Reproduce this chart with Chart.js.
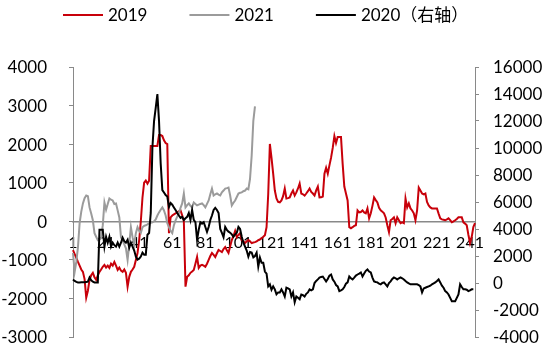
<!DOCTYPE html>
<html>
<head>
<meta charset="utf-8">
<script src="https://cdn.jsdelivr.net/npm/chart.js@4/dist/chart.umd.min.js"></script>
<style>
html,body{margin:0;padding:0;background:#fff;}
#wrap{width:550px;height:360px;position:relative;}
</style>
</head>
<body>
<div id="wrap"><canvas id="c" width="550" height="360"></canvas></div>
<script>
const categories = Array.from({length: 244}, (_, i) => String(i + 1));
const tickLabels = ['1','21','41','61','81','101','121','141','161','181','201','221','241'];
const seriesNames = ['2019', '2021', '2020（右轴）'];

const values2019 = [
-745,-850,-950,-1054,-1150,-1250,-1310,-1500,-1980,-1800,
-1516,-1400,-1336,-1450,-1516,-1400,-1310,-1250,-1180,-1130,
-1200,-1150,-1208,-1100,-1150,-1054,-1150,-1260,-1200,-1280,
-1310,-1250,-1336,-1696,-1440,-1310,-1250,-1180,-1002,-822,
-488,0,617,1000,1054,977,1054,1953,1953,1953,
1953,1953,2236,2236,2210,2100,2030,2000,-308,103,
150,180,206,230,260,283,154,0,-1696,-1440,
-1400,-1336,-1300,-1260,-1100,-925,-1208,-1150,-1130,-1150,
-1180,-1100,-1002,-900,-822,-870,-925,-830,-745,-770,
-797,-720,-668,-750,-822,-650,-488,-380,-250,-411,
-350,-308,-488,-520,-565,-520,-488,-520,-565,-550,
-540,-520,-490,-470,-437,-400,-360,-154,700,2005,
1645,1234,797,591,500,488,540,650,848,591,
600,617,720,800,668,750,850,977,720,700,
668,720,780,848,760,720,668,800,900,617,
620,640,1234,1388,1234,1450,1650,1902,2210,2030,
2184,2184,2184,1490,900,720,540,-154,-180,-154,
-120,-103,283,231,240,283,230,206,334,77,
206,400,617,550,488,350,283,250,206,100,
-103,-283,26,60,103,-51,103,30,-51,-30,
-51,591,360,463,334,280,206,26,283,874,
800,720,700,720,500,411,360,334,334,334,
334,200,77,50,40,26,50,77,30,-26,
0,26,60,103,103,103,-26,-60,-103,-350,
-565,-411,-150,-50
];

const values2021 = [
-822,-1310,-1054,-668,-50,250,463,600,668,650,
360,200,26,-308,-400,-488,-470,-437,-100,488,
300,450,591,560,540,450,463,283,100,-411,
-500,-600,-700,-1002,-600,-154,-411,-600,-308,-154,
-250,-300,-154,-120,-103,-80,-51,-40,-26,0,
50,150,231,300,360,280,150,-50,-154,-250,
-308,-100,26,120,206,350,463,720,360,420,
463,400,360,488,450,411,430,450,463,420,
360,450,540,700,848,668,700,720,690,668,
750,797,848,860,874,668,411,480,540,630,
720,740,750,780,797,850,830,1100,1700,2600,
2981
];

const values2020 = [
265,150,80,44,44,60,50,60,80,100,
412,200,100,44,44,44,3940,3940,3940,2690,
3425,2984,3425,2690,2984,2800,2690,2984,2690,2984,
3352,3100,2984,3200,2617,2984,2690,2400,1955,1735,
1800,1955,2250,2100,2100,3572,3700,5190,10040,12000,
12970,14000,12000,8860,6880,6700,6510,6400,5630,5920,
5800,5600,5400,5190,5000,4820,4895,4670,4800,4900,
5190,4670,5410,4670,4500,3200,3940,4500,4400,4500,
4150,3790,4150,4670,5000,5410,5560,5410,5190,4000,
3720,3400,4150,3940,3800,3720,3600,3425,3600,3720,
4150,4000,3425,2984,2690,2400,1955,2300,2250,1900,
2000,2250,1220,1880,1500,1500,850,700,-250,-100,
-500,-250,-470,-840,-700,-700,-470,-700,-1000,-350,
-400,-470,-1000,-700,-1430,-1000,-1100,-1200,-850,-900,
-1000,-800,-700,-470,-550,-470,0,150,265,400,
450,480,300,120,300,550,630,265,100,-150,
-250,-600,-550,-470,-300,-50,50,480,350,265,
400,550,630,700,780,480,700,900,1000,850,
780,400,120,80,44,-50,-100,0,44,-100,
-250,0,120,300,412,350,265,350,412,350,
265,150,44,-30,-100,-100,-100,-100,-100,-150,
-250,-700,-400,-350,-300,-250,-200,-100,-30,44,
150,265,44,-200,-350,-600,-700,-850,-1100,-1350,
-1350,-1350,-1100,-850,-100,-300,-470,-470,-500,-600,
-550,-470,-470
];

const FONT = '"Lato", "Noto Sans CJK SC", sans-serif';
const AXIS_GRAY = '#898989';

const legendPlugin = {
  id: 'topLegend',
  afterDraw(chart) {
    const ctx = chart.ctx;
    ctx.save();
    ctx.font = '17px ' + FONT;
    ctx.textBaseline = 'middle';
    let x = 63;
    const y = 15;
    chart.data.datasets.forEach(ds => {
      ctx.strokeStyle = ds.borderColor;
      ctx.lineWidth = 2;
      ctx.beginPath();
      ctx.moveTo(x, y);
      ctx.lineTo(x + 40, y);
      ctx.stroke();
      ctx.fillStyle = '#000';
      ctx.fillText(ds.label, x + 45, y + 1);
      x += 45 + ctx.measureText(ds.label).width + 42;
    });
    ctx.restore();
  }
};

const plainNumber = v => String(v);
function fixYAxis(width) {
  return function(s) { s.width = width; s.paddingTop = 0; s.paddingBottom = 0; };
}

new Chart(document.getElementById('c').getContext('2d'), {
  type: 'line',
  data: {
    labels: categories,
    datasets: [
      { label: seriesNames[0], data: values2019, borderColor: '#C8000A', yAxisID: 'y', order: 2 },
      { label: seriesNames[1], data: values2021, borderColor: '#9B9B9B', yAxisID: 'y', order: 1 },
      { label: seriesNames[2], data: values2020, borderColor: '#000000', yAxisID: 'y1', order: 0 }
    ]
  },
  options: {
    responsive: false,
    animation: false,
    devicePixelRatio: 1,
    layout: { padding: { top: 67, bottom: 23, left: 0, right: 0 } },
    elements: {
      point: { radius: 0 },
      line: { borderWidth: 2, tension: 0, fill: false }
    },
    plugins: { legend: { display: false }, tooltip: { enabled: false } },
    scales: {
      x: {
        type: 'category',
        position: { y: 0 },
        offset: false,
        grid: { display: false, drawTicks: false },
        border: { display: true, color: AXIS_GRAY, width: 1.5 },
        ticks: {
          autoSkip: false, maxRotation: 0, minRotation: 0, padding: 12,
          color: '#000', font: { size: 16, family: FONT },
          callback: function(v, i) { return tickLabels.includes(categories[i]) ? categories[i] : ''; }
        },
        afterFit: function(s) { s.height = 0; }
      },
      y: {
        position: 'left',
        min: -3000, max: 4000,
        ticks: { stepSize: 1000, padding: 22, color: '#000', font: { size: 17, family: FONT }, labelOffset: 1, callback: plainNumber },
        grid: { drawOnChartArea: false, drawTicks: true, tickLength: 4, color: AXIS_GRAY },
        border: { display: true, color: AXIS_GRAY, width: 1 },
        afterFit: fixYAxis(73)
      },
      y1: {
        position: 'right',
        min: -4000, max: 16000,
        ticks: { stepSize: 2000, padding: 14, color: '#000', font: { size: 17, family: FONT }, labelOffset: 1, callback: plainNumber },
        grid: { drawOnChartArea: false, drawTicks: true, tickLength: 4, color: AXIS_GRAY },
        border: { display: true, color: AXIS_GRAY, width: 1 },
        afterFit: fixYAxis(75)
      }
    }
  },
  plugins: [legendPlugin]
});
</script>
</body>
</html>
